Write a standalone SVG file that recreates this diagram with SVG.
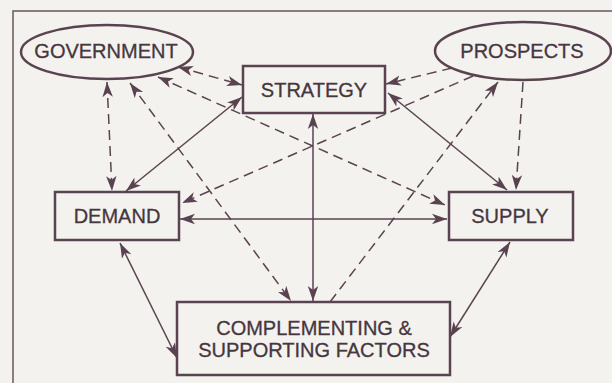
<svg xmlns="http://www.w3.org/2000/svg" width="612" height="383" viewBox="0 0 612 383">
<defs>
<style>
.bg{fill:#f4f2ee}
.frame{fill:none;stroke:#6a5660;stroke-width:1.5}
.node{fill:none;stroke:#5a4350;stroke-width:2.5}
.lbl{font-family:"Liberation Sans",Arial,sans-serif;font-size:20px;fill:#45363f;stroke:#45363f;stroke-width:0.3;text-anchor:middle}
.c{fill:none;stroke:#5a4350;stroke-width:1.5}
.d{stroke-dasharray:10 6}
.ab{marker-start:url(#ah);marker-end:url(#ah)}
.ae{marker-end:url(#ah)}
</style>
<marker id="ah" markerUnits="userSpaceOnUse" markerWidth="16" markerHeight="12" viewBox="0 0 16 12" refX="15" refY="6" orient="auto-start-reverse">
<path d="M0,0.8 L15,6 L0,11.2 L4,6 Z" fill="#5a4350"/>
</marker>
</defs>
<rect class="bg" x="0" y="0" width="612" height="383"/>
<path class="frame" d="M13,383 L13,11 L612,11"/>
<g id="connectors">
<line class="c d ab" x1="178" y1="67" x2="242" y2="85"/>
<line class="c d ab" x1="107" y1="82" x2="112" y2="191"/>
<line class="c d ab" x1="130" y1="83" x2="291" y2="301"/>
<line class="c d ab" x1="158" y1="77" x2="445" y2="205"/>
<line class="c ab" x1="242" y1="97" x2="126" y2="191"/>
<line class="c d ae" x1="452" y1="68" x2="386" y2="84"/>
<line class="c d ae" x1="473" y1="76" x2="182" y2="203"/>
<line class="c d ae" x1="330" y1="302" x2="498" y2="82"/>
<line class="c d ae" x1="523" y1="82" x2="516" y2="190"/>
<line class="c ab" x1="388" y1="93" x2="507" y2="190"/>
<line class="c ab" x1="313" y1="114" x2="313" y2="301"/>
<line class="c ab" x1="180" y1="219" x2="447" y2="219"/>
<line class="c ab" x1="120" y1="243" x2="177" y2="358"/>
<line class="c ab" x1="510" y1="242" x2="450" y2="337"/>
</g>
<g id="government">
<ellipse class="node" cx="107" cy="52" rx="86" ry="27"/>
<text class="lbl" x="106" y="58">GOVERNMENT</text>
</g>
<g id="prospects">
<ellipse class="node" cx="523" cy="51" rx="88" ry="29"/>
<text class="lbl" x="522" y="58">PROSPECTS</text>
</g>
<g id="strategy">
<rect class="node" x="243" y="66" width="142" height="47"/>
<text class="lbl" x="314" y="97">STRATEGY</text>
</g>
<g id="demand">
<rect class="node" x="55" y="192" width="124" height="48"/>
<text class="lbl" x="117" y="223">DEMAND</text>
</g>
<g id="supply">
<rect class="node" x="449" y="192" width="124" height="48"/>
<text class="lbl" x="510" y="223">SUPPLY</text>
</g>
<g id="complementing">
<rect class="node" x="177" y="302" width="273" height="73"/>
<text class="lbl" x="314" y="335">COMPLEMENTING &amp;</text>
<text class="lbl" x="314" y="357">SUPPORTING FACTORS</text>
</g>
</svg>
